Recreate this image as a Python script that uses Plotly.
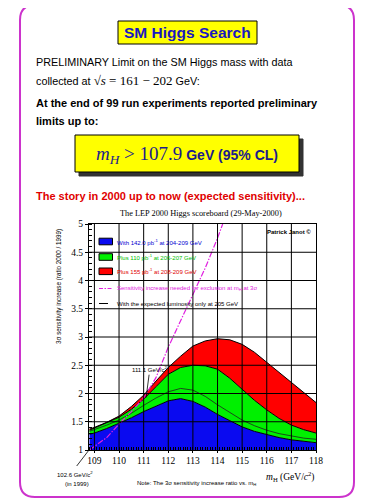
import plotly.graph_objects as go

# ---------------- data ----------------
mass = [108.8, 109, 109.5, 110, 110.5, 111, 111.5, 112, 112.5, 113, 113.5,
        114, 114.5, 115, 115.5, 116, 116.5, 117, 117.5, 118]
blue_top = [1.28, 1.30, 1.38, 1.47, 1.57, 1.68, 1.78, 1.87, 1.91, 1.86, 1.76,
            1.63, 1.52, 1.41, 1.33, 1.27, 1.22, 1.18, 1.15, 1.13]
green_top = [1.35, 1.39, 1.48, 1.58, 1.72, 1.90, 2.12, 2.34, 2.46, 2.50, 2.49,
             2.43, 2.27, 2.07, 1.88, 1.71, 1.56, 1.44, 1.36, 1.30]
red_top = [1.37, 1.40, 1.49, 1.60, 1.77, 1.97, 2.22, 2.46, 2.66, 2.84, 2.93,
           2.97, 2.95, 2.87, 2.73, 2.55, 2.37, 2.19, 2.01, 1.84]
expected_lumi = [1.33, 1.36, 1.44, 1.53, 1.65, 1.79, 1.92, 2.03, 2.09, 2.06, 1.95,
                 1.80, 1.66, 1.53, 1.43, 1.35, 1.29, 1.25, 1.21, 1.19]
needed_mass = [108.8, 109, 109.5, 110, 110.5, 111, 111.5, 112, 112.5, 113, 113.5, 114, 114.21]
needed_ratio = [1.0, 1.06, 1.22, 1.46, 1.68, 1.92, 2.28, 2.82, 3.28, 3.75, 4.22, 4.75, 5.0]

x_ticks = [109, 110, 111, 112, 113, 114, 115, 116, 117, 118]
y_ticks = [1, 1.5, 2, 2.5, 3, 3.5, 4, 4.5, 5]
y_tick_labels = ["1", "1.5", "2", "2.5", "3", "3.5", "4", "4.5", "5"]

# ---------------- layout helpers ----------------
# the page body adds an 8px margin, so the figure is 8px smaller than the window
OFF = 8
W, H = 375 - OFF, 500 - OFF
L, R, T, B = 89, 316, 224, 450          # plot area in window pixels
def px(X):
    return (X - L) / (R - L)
def py(Y):
    return (B - Y) / (B - T)

SANS = "Liberation Sans"
SERIF = "Liberation Serif"
BLUE = "#0a0af0"
GREEN = "#00f000"
RED = "#ff0000"
MAG = "#e020e0"

fig = go.Figure()
fig.add_trace(go.Scatter(x=mass, y=blue_top, mode="lines", fill="tozeroy",
                         fillcolor=BLUE, line=dict(color="black", width=1),
                         hoverinfo="skip", showlegend=False))
fig.add_trace(go.Scatter(x=mass, y=green_top, mode="lines", fill="tonexty",
                         fillcolor=GREEN, line=dict(color="black", width=1),
                         hoverinfo="skip", showlegend=False))
fig.add_trace(go.Scatter(x=mass, y=red_top, mode="lines", fill="tonexty",
                         fillcolor=RED, line=dict(color="black", width=1),
                         hoverinfo="skip", showlegend=False))
fig.add_trace(go.Scatter(x=mass, y=expected_lumi, mode="lines",
                         line=dict(color="#202020", width=0.8),
                         hoverinfo="skip", showlegend=False))
fig.add_trace(go.Scatter(x=needed_mass, y=needed_ratio, mode="lines",
                         line=dict(color=MAG, width=1.2, dash="6px,1.5px,1.5px,1.5px"),
                         hoverinfo="skip", showlegend=False))

shapes = []
# gridlines drawn above the fills
for xv in x_ticks[:-1]:
    shapes.append(dict(type="line", xref="x", yref="paper", x0=xv, x1=xv, y0=0, y1=1,
                       line=dict(color="black", width=1), layer="above"))
for yv in y_ticks[1:-1]:
    shapes.append(dict(type="line", xref="paper", yref="y", x0=0, x1=1, y0=yv, y1=yv,
                       line=dict(color="black", width=1), layer="above"))

# page border (rounded)
r = 15
x0b, x1b, y0b, y1b = 20, 354, 5, 497
path = (f"M {px(x0b)},{py(y0b + r)} Q {px(x0b)},{py(y0b)} {px(x0b + r)},{py(y0b)} "
        f"L {px(x1b - r)},{py(y0b)} Q {px(x1b)},{py(y0b)} {px(x1b)},{py(y0b + r)} "
        f"L {px(x1b)},{py(y1b - r)} Q {px(x1b)},{py(y1b)} {px(x1b - r)},{py(y1b)} "
        f"L {px(x0b + r)},{py(y1b)} Q {px(x0b)},{py(y1b)} {px(x0b)},{py(y1b - r)} Z")
shapes.append(dict(type="path", xref="paper", yref="paper", path=path,
                   line=dict(color="#cc33cc", width=2), layer="below"))

# title box
shapes.append(dict(type="rect", xref="paper", yref="paper", x0=px(118), x1=px(257),
                   y0=py(44), y1=py(21), fillcolor="#ffff00",
                   line=dict(color="black", width=1)))
# limit box with shadow
shapes.append(dict(type="rect", xref="paper", yref="paper", x0=px(79), x1=px(303),
                   y0=py(176), y1=py(139), fillcolor="#333333",
                   line=dict(color="#333333", width=1)))
shapes.append(dict(type="rect", xref="paper", yref="paper", x0=px(75), x1=px(299),
                   y0=py(172), y1=py(135), fillcolor="#ffff00",
                   line=dict(color="black", width=1)))

# legend swatches
leg_rows = [(241.5, BLUE), (257, GREEN), (271.3, RED)]
for yc, col in leg_rows:
    shapes.append(dict(type="rect", xref="paper", yref="paper", x0=px(99), x1=px(112.5),
                       y0=py(yc + 3.3), y1=py(yc - 3.3), fillcolor=col,
                       line=dict(color="black", width=1), layer="above"))
shapes.append(dict(type="line", xref="paper", yref="paper", x0=px(99), x1=px(113),
                   y0=py(288.5), y1=py(288.5),
                   line=dict(color=MAG, width=1, dash="4px,1.5px,1.5px,1.5px"),
                   layer="above"))
shapes.append(dict(type="line", xref="paper", yref="paper", x0=px(99), x1=px(113),
                   y0=py(303.5), y1=py(303.5), line=dict(color="black", width=1, dash="dash"),
                   layer="above"))
# pointer for the 1999 limit
shapes.append(dict(type="line", xref="paper", yref="paper", x0=0, y0=0,
                   x1=px(76.7), y1=py(466), line=dict(color="black", width=0.8)))

ann = []
def text(X, Y, s, size, color="black", family=SANS, xanchor="left", **kw):
    ann.append(dict(x=px(X), y=py(Y), xref="paper", yref="paper", text=s,
                    showarrow=False, xanchor=xanchor, yanchor="middle",
                    font=dict(size=size, color=color, family=family), **kw))

text(187.5, 33, "<b>SM Higgs Search</b>", 15.5, "#1818c0", xanchor="center")
text(34, 61.5, "PRELIMINARY Limit on the SM Higgs mass with data", 10.8)
text(34, 80.5, "collected at <span style='font-family:Liberation Serif;font-size:13px'>"
     "√<i>s</i> = 161 − 202</span> GeV:", 10.8)
text(34, 102.7, "<b>At the end of 99 run experiments reported preliminary</b>", 11)
text(34, 121, "<b>limits up to:</b>", 11)
text(187, 154.5, "<span style='font-family:Liberation Serif;font-size:19px'><i>m</i><sub><i>H</i></sub> &gt; 107.9</span>"
     " <b>GeV (95% CL)</b>", 14, "#1c1c8c", xanchor="center")
text(34, 195.5, "<b>The story in 2000 up to now (expected sensitivity)...</b>", 11, "#e00000")
text(201, 214, "The LEP 2000 Higgs scoreboard (29-May-2000)", 8.3, family=SERIF, xanchor="center")

# legend texts
LF = 6
text(115, 241.5, "With 142.0 pb<sup>-1</sup> at 204-209 GeV", LF, "#0000d0")
text(115, 257, "Plus 110 pb<sup>-1</sup> at 206-207 GeV", LF, "#00c000")
text(115, 271.3, "Plus 155 pb<sup>-1</sup> at 208-209 GeV", LF, "#e00000")
text(115, 288.5, "Sensitivity increase needed for exclusion at m<sub>H</sub> at 3σ", LF, MAG)
text(115, 303.5, "With the expected luminosity only at 205 GeV", LF, "black")
text(289, 232, "<b>Patrick Janot ©</b>", LF, xanchor="center")

# axis titles and notes
ann.append(dict(x=px(59), y=py(287), xref="paper", yref="paper",
                text="3σ sensitivity increase (ratio 2000 / 1999)", showarrow=False,
                textangle=-90, xanchor="center", yanchor="middle",
                font=dict(size=6.3, family=SANS, color="black")))
text(317, 476, "<i>m</i><sub>H</sub> (GeV/<i>c</i><sup>2</sup>)", 9.5, family=SERIF, xanchor="right")
text(196, 483.5, "Note: The 3σ sensitivity increase ratio vs. m<sub>H</sub>", LF, xanchor="center")
text(75, 474, "102.6 GeV/c<sup>2</sup>", LF, xanchor="center")
text(77, 483.5, "(in 1999)", LF, xanchor="center")

# 111.1 GeV annotation with pointer
ann.append(dict(x=111.1, y=1.93, xref="x", yref="y", ax=111.25, ay=2.43,
                axref="x", ayref="y", text="111.1 GeV/c<sup>2</sup>", showarrow=True,
                arrowhead=0, arrowwidth=0.8, arrowcolor="black",
                font=dict(size=LF, family=SANS, color="black")))

fig.update_layout(
    width=W, height=H,
    margin=dict(l=L - OFF, r=W - (R - OFF), t=T - OFF, b=H - (B - OFF)),
    paper_bgcolor="white", plot_bgcolor="white",
    showlegend=False, shapes=shapes, annotations=ann,
    xaxis=dict(range=[108.78, 118], tickvals=x_ticks, ticktext=[str(v) for v in x_ticks],
               showgrid=False, zeroline=False, showline=True, linecolor="black",
               linewidth=1, mirror=True, ticks="outside", ticklen=2, tickcolor="black",
               tickfont=dict(family=SERIF, size=9.5, color="black"),
               minor=dict(dtick=0.1, tick0=109, ticks="inside", ticklen=3,
                          tickcolor="black", showgrid=False)),
    yaxis=dict(range=[1, 5], tickvals=y_ticks, ticktext=y_tick_labels,
               showgrid=False, zeroline=False, showline=True, linecolor="black",
               linewidth=1, mirror=True, ticks="outside", ticklen=3, tickcolor="black",
               tickfont=dict(family=SERIF, size=9.5, color="black"),
               minor=dict(dtick=0.1, tick0=1, ticks="inside", ticklen=3,
                          tickcolor="black", showgrid=False)),
)

fig.write_html("out.html")
